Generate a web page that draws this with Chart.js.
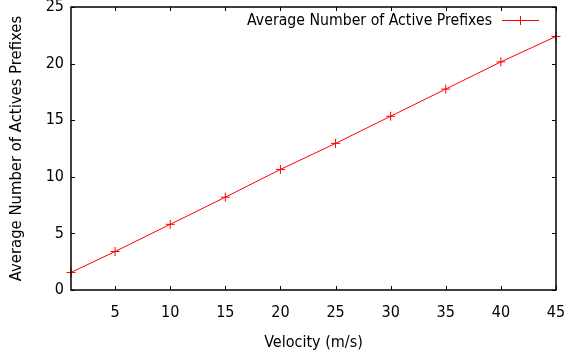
<!DOCTYPE html>
<html>
<head>
<meta charset="utf-8">
<script src="https://cdn.jsdelivr.net/npm/chart.js@4"></script>
<style>
  html, body { margin: 0; padding: 0; background: #fff; }
  #wrap { width: 569px; height: 354px; }
</style>
</head>
<body>
<div id="wrap"><canvas id="c" width="569" height="354"></canvas></div>
<script>
// データ
const velocity = [1, 5, 10, 15, 20, 25, 30, 35, 40, 45];
const activePrefixes = [1.55, 3.4, 5.8, 8.2, 10.65, 12.95, 15.35, 17.75, 20.15, 22.4];
const xTicks = [5, 10, 15, 20, 25, 30, 35, 40, 45];
const yTicks = [0, 5, 10, 15, 20, 25];
const seriesLabel = "Average Number of Active Prefixes";

const FONT = "'DejaVu Sans Condensed', 'DejaVu Sans', sans-serif";
const RED = "#ff0000";

// 目盛りラベルのはみ出し分の余白を消す
function noPad(s) {
  s.paddingTop = 0;
  s.paddingBottom = 0;
  s.paddingLeft = 0;
  s.paddingRight = 0;
}

// 枠・内向き目盛り・凡例
const framePlugin = {
  id: "frame",
  afterDraw(chart) {
    const { ctx, chartArea: a, scales } = chart;
    ctx.save();
    ctx.strokeStyle = "#000";
    ctx.lineWidth = 1;
    ctx.beginPath();
    xTicks.forEach((v) => {
      const x = Math.round(scales.x.getPixelForValue(v)) + 0.5;
      ctx.moveTo(x, a.bottom); ctx.lineTo(x, a.bottom - 4);
      ctx.moveTo(x, a.top); ctx.lineTo(x, a.top + 4);
    });
    yTicks.forEach((v) => {
      const y = Math.round(scales.y.getPixelForValue(v)) + 0.5;
      ctx.moveTo(a.left, y); ctx.lineTo(a.left + 4, y);
      ctx.moveTo(a.right, y); ctx.lineTo(a.right - 4, y);
    });
    ctx.stroke();
    ctx.lineWidth = 1.5;
    ctx.strokeRect(a.left, a.top, a.right - a.left, a.bottom - a.top);

    // 凡例
    const ly = 21;
    ctx.font = "15.7px " + FONT;
    ctx.fillStyle = "#000";
    ctx.textAlign = "right";
    ctx.textBaseline = "middle";
    ctx.fillText(seriesLabel, 492, ly);
    ctx.strokeStyle = RED;
    ctx.lineWidth = 1;
    ctx.beginPath();
    ctx.moveTo(502, ly - 0.5); ctx.lineTo(539, ly - 0.5);
    ctx.moveTo(520.5, ly - 5); ctx.lineTo(520.5, ly + 4);
    ctx.stroke();
    ctx.restore();
  },
};

new Chart(document.getElementById("c"), {
  type: "line",
  data: {
    datasets: [
      {
        label: seriesLabel,
        data: velocity.map((v, i) => ({ x: v, y: activePrefixes[i] })),
        borderColor: RED,
        borderWidth: 1,
        pointStyle: "cross",
        pointRadius: 4.5,
        pointBorderColor: RED,
        pointBorderWidth: 1,
        tension: 0,
        clip: false,
      },
    ],
  },
  options: {
    responsive: false,
    animation: false,
    events: [],
    layout: { padding: { top: 7, right: 13, left: 0, bottom: 0 } },
    plugins: { legend: { display: false }, tooltip: { enabled: false } },
    scales: {
      x: {
        type: "linear",
        min: 1,
        max: 45,
        afterBuildTicks: (s) => { s.ticks = xTicks.map((v) => ({ value: v })); },
        afterFit: (s) => { s.height = 64; noPad(s); },
        grid: { display: false, drawTicks: false },
        border: { display: false },
        ticks: { color: "#000", font: { family: FONT, size: 16 }, padding: 13, maxRotation: 0 },
        title: { display: true, text: "Velocity (m/s)", color: "#000", font: { family: FONT, size: 16 }, padding: { top: 4, bottom: 2 } },
      },
      y: {
        type: "linear",
        min: 0,
        max: 25,
        afterBuildTicks: (s) => { s.ticks = yTicks.map((v) => ({ value: v })); },
        afterFit: (s) => { s.width = 71; noPad(s); },
        grid: { display: false, drawTicks: false },
        border: { display: false },
        ticks: { color: "#000", font: { family: FONT, size: 16 }, padding: 7 },
        title: { display: true, text: "Average Number of Actives Prefixes", color: "#000", font: { family: FONT, size: 16.5 }, padding: { top: 7, bottom: 4 } },
      },
    },
  },
  plugins: [framePlugin],
});
</script>
</body>
</html>
